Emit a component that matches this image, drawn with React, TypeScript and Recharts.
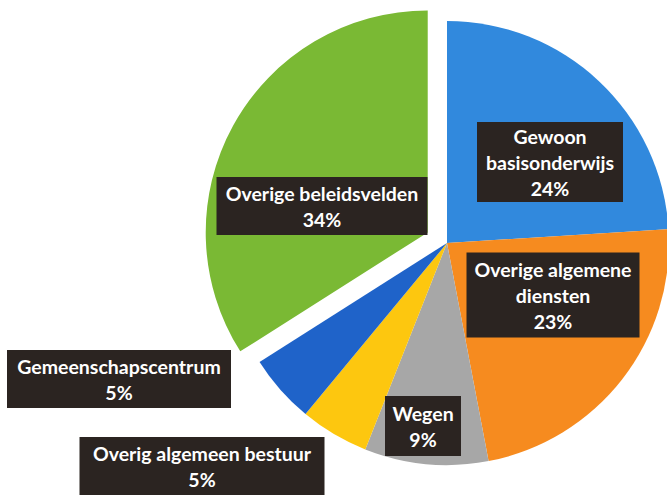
// Verdeling uitgaven per beleidsveld — taartdiagram met uitgelicht segment
import { PieChart, Pie, Cell } from 'recharts';

const W = 667;
const H = 495;

const names = [
  'Gewoon basisonderwijs',
  'Overige algemene diensten',
  'Wegen',
  'Overig algemeen bestuur',
  'Gemeenschapscentrum',
  'Overige beleidsvelden',
];
const shares = [24, 23, 9, 5, 5, 34];
const colors = ['#3189dd', '#f68b1f', '#a7a7a7', '#fdc70f', '#1f63c9', '#7ab934'];
// label text split over lines (last line = percentage)
const labelLines = [
  ['Gewoon', 'basisonderwijs'],
  ['Overige algemene', 'diensten'],
  ['Wegen'],
  ['Overig algemeen bestuur'],
  ['Gemeenschapscentrum'],
  ['Overige beleidsvelden'],
];
const exploded = 5; // index of the pulled-out slice

const data = names.map((name, i) => ({ name, value: shares[i] }));

// label box placement relative to the pie centre: [dx, dy, width, height]
const boxLayout = [
  [103, -81, 146, 80],
  [106, 52, 173, 85],
  [-24, 183, 76, 60],
  [-245, 223, 245, 58],
  [-328, 136, 224, 58],
  [-125, -37, 211, 58],
];

const CX = 447;
const CY = 243;
const R = 222;
const PULL = 22;

const FONT = 'Lato, "Open Sans", sans-serif';

function BoxLabel(props: any) {
  const { cx, cy, index } = props;
  const [dx, dy, w, h] = boxLayout[index];
  const lines = [...labelLines[index], `${shares[index]}%`];
  const lh = 26;
  const x = cx + dx;
  const y = cy + dy;
  const top = y - ((lines.length - 1) * lh) / 2;
  return (
    <g>
      <rect x={x - w / 2} y={y - h / 2} width={w} height={h} fill="#2b2421" />
      {lines.map((t, k) => (
        <text
          key={k}
          x={x}
          y={top + k * lh}
          textAnchor="middle"
          dominantBaseline="central"
          fill="#ffffff"
          fontFamily={FONT}
          fontWeight={700}
          fontSize={19.5}
        >
          {t}
        </text>
      ))}
    </g>
  );
}

export default function App() {
  const total = shares.reduce((a, b) => a + b, 0);
  const before = shares.slice(0, exploded).reduce((a, b) => a + b, 0);
  const mid = 90 - ((before + shares[exploded] / 2) / total) * 360;
  const rad = (mid * Math.PI) / 180;
  const ox = Math.cos(rad) * PULL;
  const oy = -Math.sin(rad) * PULL;

  return (
    <div style={{ position: 'fixed', left: 0, top: 0, width: W, height: H, background: '#ffffff' }}>
      <PieChart width={W} height={H} margin={{ top: 0, right: 0, bottom: 0, left: 0 }}>
        {/* pulled-out slice */}
        <Pie
          data={data}
          dataKey="value"
          nameKey="name"
          cx={CX + ox}
          cy={CY + oy}
          outerRadius={R}
          startAngle={90}
          endAngle={-270}
          stroke="none"
          labelLine={false}
          isAnimationActive={false}
        >
          {data.map((d, i) => (
            <Cell key={d.name} fill={i === exploded ? colors[i] : 'none'} />
          ))}
        </Pie>
        <Pie
          data={data}
          dataKey="value"
          nameKey="name"
          cx={CX}
          cy={CY}
          outerRadius={R}
          startAngle={90}
          endAngle={-270}
          stroke="none"
          labelLine={false}
          label={BoxLabel}
          isAnimationActive={false}
        >
          {data.map((d, i) => (
            <Cell key={d.name} fill={i === exploded ? 'none' : colors[i]} />
          ))}
        </Pie>
      </PieChart>
    </div>
  );
}
